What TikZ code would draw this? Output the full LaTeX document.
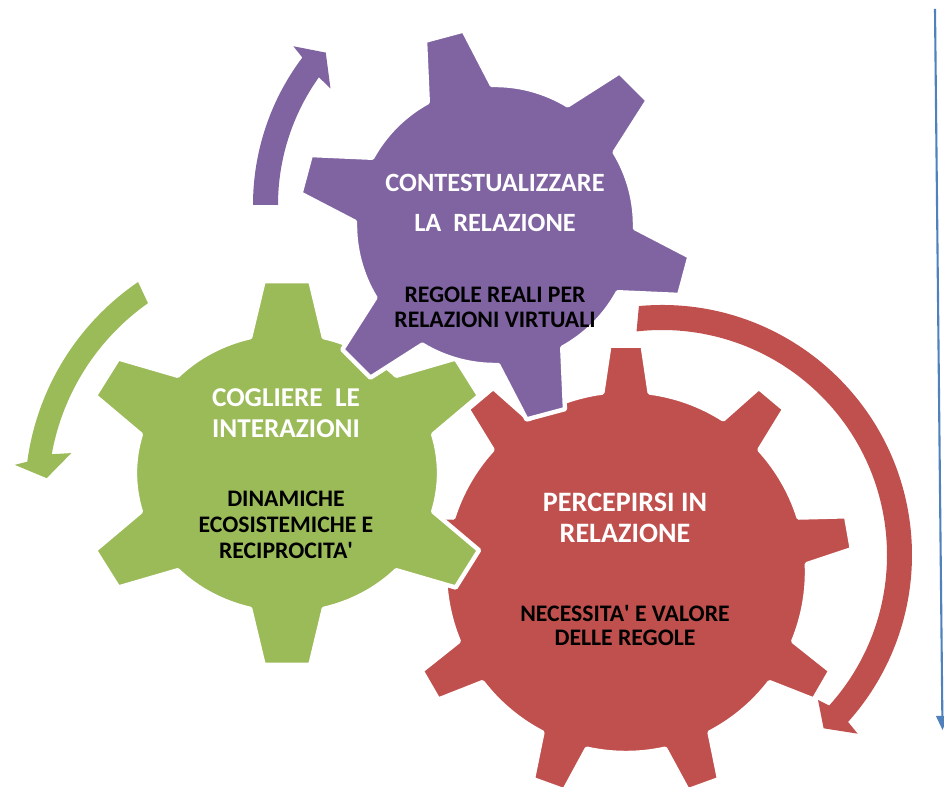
\documentclass[tikz,border=0pt]{standalone}
\usepackage{fontspec}
\setmainfont{Carlito}
\usetikzlibrary{arrows.meta}
\definecolor{gearpurple}{HTML}{8064A2}
\definecolor{geargreen}{HTML}{9BBB59}
\definecolor{gearred}{HTML}{C0504D}
\definecolor{lineblue}{HTML}{4F81BD}
\begin{document}
\begin{tikzpicture}[x=0.02cm,y=0.02cm,
  gear/.style={draw=white,line width=2.5pt,line join=round},
  title/.style={text=white,align=center},
  note/.style={text=black,align=center}]
\useasboundingbox (0,0) rectangle (944,787);
            % Centres
\coordinate (purplec) at (495,562);
\coordinate (greenc) at (287,314);
\coordinate (redc) at (626,215);
            % Circular arrows
\begin{scope}[shift={(498,582)}]
\fill[gearpurple] (180:245) arc[start angle=180,end angle=143,radius=245]
  -- (142.2:259) -- (138.5:230) -- (145.2:204) -- (144.5:220)
  arc[start angle=144.5,end angle=180,radius=220] -- cycle;
\end{scope}
\begin{scope}[shift={(284,291)}]
\fill[geargreen] (124.3:259) arc[start angle=124.3,end angle=172.4,radius=259]
  -- (173.4:271) -- (175.7:238) -- (168.6:217) -- (169.8:236)
  arc[start angle=169.8,end angle=125.2,radius=236] -- cycle;
\end{scope}
\begin{scope}[shift={(662,232)}]
\fill[gearred] (95.3:250) arc[start angle=95.3,end angle=-41.9,radius=250]
  -- (-42.4:265) -- (-47:237) -- (-42.9:213) -- (-42:225)
  arc[start angle=-42,end angle=96.5,radius=225] -- cycle;
\end{scope}
            % Gears
\begin{scope}[shift={(redc)}]
\filldraw[gear,fill=gearred] (90-7.5:181) \foreach \a in {90,130,...,410}
  { -- (\a-7.5:181) -- (\a-4.2:227) -- (\a+4.2:227) -- (\a+7.5:181)
    arc[start angle=\a+7.5,end angle=\a+40-7.5,radius=181] } -- cycle;
\end{scope}
\begin{scope}[shift={(greenc)},xscale=1.086]
\filldraw[gear,fill=geargreen] (90-14:140) \foreach \a in {90,150,...,390}
  { -- (\a-14:140) -- (\a-6.4:193) -- (\a+6.4:193) -- (\a+14:140)
    arc[start angle=\a+14,end angle=\a+60-14,radius=140] } -- cycle;
\end{scope}
\begin{scope}[shift={(purplec)}]
\filldraw[gear,fill=gearpurple] (105-13.7:140) \foreach \a in {105,165,...,405}
  { -- (\a-13.7:140) -- (\a-5.8:197) -- (\a+5.8:197) -- (\a+13.7:140)
    arc[start angle=\a+13.7,end angle=\a+60-13.7,radius=140] } -- cycle;
\end{scope}
            % Texts
\node[title,font=\fontsize{15}{23}\selectfont\bfseries] (purpletitle) at (495,584)
  {CONTESTUALIZZARE\\LA\ \ RELAZIONE};
\node[note,font=\fontsize{13.5}{14.5}\selectfont\bfseries] (purplenote) at (495,479.5)
  {REGOLE REALI PER\\RELAZIONI VIRTUALI};
\node[title,font=\fontsize{15.5}{17.6}\selectfont\bfseries] (greentitle) at (286,373.5)
  {COGLIERE\ \ LE\\INTERAZIONI};
\node[note,font=\fontsize{13.5}{14.8}\selectfont\bfseries] (greennote) at (286,262)
  {DINAMICHE\\ECOSISTEMICHE E\\RECIPROCITA\textquotesingle};
\node[title,font=\fontsize{16}{17.6}\selectfont\bfseries] (redtitle) at (625,269.5)
  {PERCEPIRSI IN\\RELAZIONE};
\node[note,font=\fontsize{13.5}{14.2}\selectfont\bfseries] (rednote) at (625,161.5)
  {NECESSITA\textquotesingle{} E VALORE\\DELLE REGOLE};
            % Side line
\coordinate (linetop) at (935,778);
\coordinate (linebot) at (942.5,57);
\draw[lineblue,line width=1.2pt,-{Triangle[length=8pt,width=7pt]}] (linetop) -- (linebot);
\end{tikzpicture}
\end{document}
